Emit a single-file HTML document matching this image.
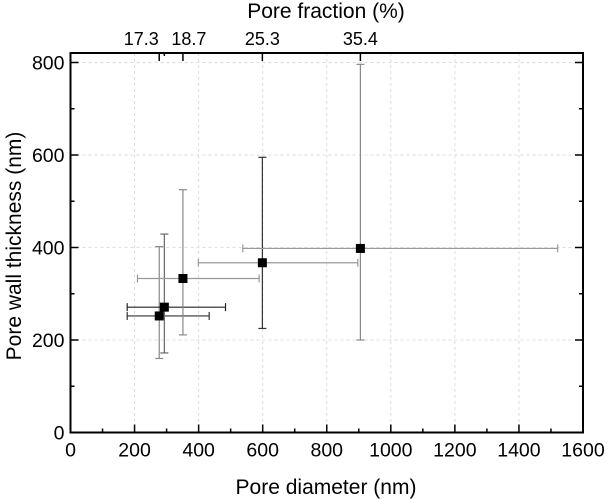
<!DOCTYPE html>
<html><head><meta charset="utf-8"><style>
body{margin:0;background:#fff;}
svg{display:block;font-family:"Liberation Sans",Arial,sans-serif;}
</style></head><body>
<svg width="609" height="499" viewBox="0 0 609 499" id="chart">
</svg>
<script>
const diameters=[277,293,351,599,905];
const thickness=[252,271,333,367,398];
const xErrLow=[177,177,209,399,538];
const xErrHigh=[433,484,589,897,1521];
const yErrLow=[160,172,211,225,200];
const yErrHigh=[402,429,525,595,796];
const xBarColors=['#333','#222','#999','#999','#999'];
const yBarColors=['#888','#666','#888','#333','#888'];
const xTicks=[0,200,400,600,800,1000,1200,1400,1600];
const yTicks=[0,200,400,600,800];
const fracTicks=[277,293,351,599,905];
const fracLabels=['17.3','','18.7','25.3','35.4'];

const X0=70.5,X1=583,Y0=432.5,Y1=62.5,TOP=53;
const sx=v=>X0+(v-0)/1600*(X1-X0);
const sy=v=>Y0-(v-0)/800*(Y0-Y1);
const svg=document.getElementById('chart');
const NS='http://www.w3.org/2000/svg';
function mk(tag,attrs,parent){const e=document.createElementNS(NS,tag);for(const k in attrs)e.setAttribute(k,attrs[k]);(parent||svg).appendChild(e);return e;}

xTicks.slice(1,-1).forEach(v=>{const l=mk('line',{x1:sx(v),x2:sx(v),y1:TOP,y2:Y0,stroke:'#ddd','stroke-dasharray':'3,3'});

});
yTicks.slice(1).forEach(v=>{const l=mk('line',{x1:X0,x2:X1,y1:sy(v),y2:sy(v),stroke:'#ddd','stroke-dasharray':'3,3'});

});

diameters.forEach((d,i)=>{
  const g=mk('g',{});
  
  
  const cy=sy(thickness[i]),cx=sx(d);
  mk('line',{x1:cx,x2:cx,y1:sy(yErrLow[i]),y2:sy(yErrHigh[i]),stroke:yBarColors[i],'stroke-width':1.2},g);
  mk('line',{x1:cx-4,x2:cx+4,y1:sy(yErrLow[i]),y2:sy(yErrLow[i]),stroke:yBarColors[i],'stroke-width':1.2},g);
  mk('line',{x1:cx-4,x2:cx+4,y1:sy(yErrHigh[i]),y2:sy(yErrHigh[i]),stroke:yBarColors[i],'stroke-width':1.2},g);
  mk('line',{x1:sx(xErrLow[i]),x2:sx(xErrHigh[i]),y1:cy,y2:cy,stroke:xBarColors[i],'stroke-width':1.2},g);
  mk('line',{x1:sx(xErrLow[i]),x2:sx(xErrLow[i]),y1:cy-4,y2:cy+4,stroke:xBarColors[i],'stroke-width':1.2},g);
  mk('line',{x1:sx(xErrHigh[i]),x2:sx(xErrHigh[i]),y1:cy-4,y2:cy+4,stroke:xBarColors[i],'stroke-width':1.2},g);
});
diameters.forEach((d,i)=>{
  const r=mk('rect',{x:sx(d)-4.5,y:sy(thickness[i])-4.5,width:9,height:9,fill:'#000'});
  
  
});

const f=mk('rect',{x:X0,y:TOP,width:X1-X0,height:Y0-TOP,fill:'none',stroke:'#000','stroke-width':2});



for(let v=0;v<=1600;v+=100){
  const major=v%200===0;
  mk('line',{x1:sx(v),x2:sx(v),y1:Y0,y2:Y0-(major?8:4),stroke:'#000','stroke-width':1.5});
}
xTicks.forEach(v=>{const t=mk('text',{x:sx(v),y:Y0+24,'text-anchor':'middle','font-size':19.5,fill:'#000'});t.textContent=v;

});
for(let v=0;v<=800;v+=100){
  const major=v%200===0;
  mk('line',{x1:X0,x2:X0+(major?8:4),y1:sy(v),y2:sy(v),stroke:'#000','stroke-width':1.5});
  mk('line',{x1:X1,x2:X1-(major?8:4),y1:sy(v),y2:sy(v),stroke:'#000','stroke-width':1.5});
}
yTicks.forEach(v=>{const t=mk('text',{x:X0-6,y:sy(v)+7,'text-anchor':'end','font-size':19.5,fill:'#000'});t.textContent=v;

});
fracTicks.forEach((v,i)=>{
  mk('line',{x1:sx(v),x2:sx(v),y1:TOP,y2:TOP+(fracLabels[i]?8:3),stroke:'#000','stroke-width':1.5});
  if(fracLabels[i]){
    const off=i===0?-18:(i===2?6:0);
    const t=mk('text',{x:sx(v)+off,y:TOP-8,'text-anchor':'middle','font-size':18,fill:'#000'});t.textContent=fracLabels[i];
    
    
  }
});
let t=mk('text',{x:326,y:494,'text-anchor':'middle','font-size':21,fill:'#000'});t.textContent='Pore diameter (nm)';


t=mk('text',{x:326,y:18,'text-anchor':'middle','font-size':21,fill:'#000'});t.textContent='Pore fraction (%)';


t=mk('text',{x:0,y:0,'text-anchor':'middle','font-size':21,fill:'#000',transform:'translate(21,246) rotate(-90)'});t.textContent='Pore wall thickness (nm)';


</script>
</body></html>
